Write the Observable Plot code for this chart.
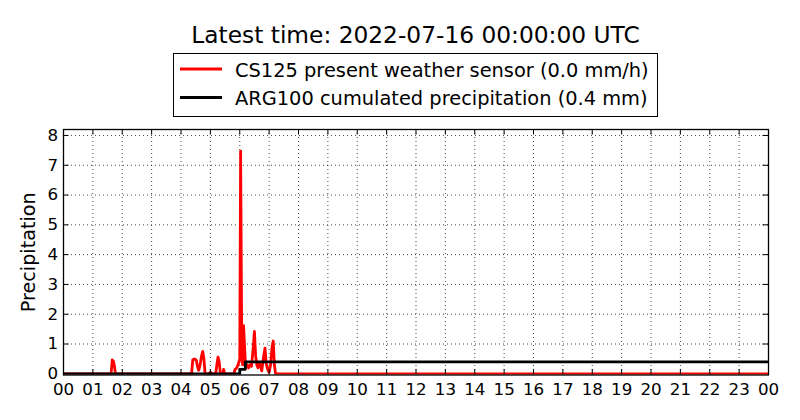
<!DOCTYPE html>
<html>
<head>
<meta charset="utf-8">
<script src="https://cdn.jsdelivr.net/npm/d3@7"></script>
<script src="https://cdn.jsdelivr.net/npm/@observablehq/plot@0.6"></script>
<style>
  html, body { margin: 0; padding: 0; background: white; }
  #wrap { width: 800px; height: 420px; background: white; font-family: "DejaVu Sans", sans-serif; }
  svg { display: block; }
</style>
</head>
<body>
<div id="wrap">
  <div id="header"></div>
  <div id="chart"></div>
</div>
<script>
// ---------- data ----------
const titleText = "Latest time: 2022-07-16 00:00:00 UTC";
const seriesNames = ["CS125 present weather sensor (0.0 mm/h)", "ARG100 cumulated precipitation (0.4 mm)"];
const seriesColors = ["red", "black"];
const yLabel = "Precipitation";

const xTickHours = [0,1,2,3,4,5,6,7,8,9,10,11,12,13,14,15,16,17,18,19,20,21,22,23,24];
const xTickLabels = ["00","01","02","03","04","05","06","07","08","09","10","11","12","13","14","15","16","17","18","19","20","21","22","23","00"];
const yTicks = [0,1,2,3,4,5,6,7,8];

// CS125 present weather sensor (mm/h), hours of day
const sensorHours = [0, 1.62, 1.66, 1.70, 1.73, 1.77,
  4.36, 4.40, 4.46, 4.52, 4.56, 4.60, 4.64, 4.70, 4.74, 4.78, 4.82,
  4.97, 5.00, 5.05, 5.18, 5.22, 5.26, 5.30, 5.34, 5.42, 5.45, 5.49,
  5.80, 5.84, 5.90, 5.96, 6.00, 6.03, 6.07, 6.10, 6.13, 6.17, 6.20, 6.25, 6.30, 6.35, 6.40,
  6.46, 6.50, 6.54, 6.58, 6.62, 6.66, 6.70, 6.75, 6.80, 6.86, 6.90, 6.95, 7.00, 7.05, 7.10, 7.14, 7.18, 7.22, 24];
const sensorRate = [0, 0, 0.47, 0.42, 0.28, 0,
  0, 0.47, 0.50, 0.46, 0.25, 0.12, 0.25, 0.60, 0.75, 0.50, 0,
  0, 0.05, 0, 0, 0.30, 0.56, 0.40, 0, 0, 0.15, 0,
  0, 0.15, 0.20, 0.35, 0.50, 7.47, 0.50, 0.30, 1.62, 0.80, 0.20, 0.30, 0.20, 0.30, 0.25,
  0.90, 1.42, 0.60, 0.30, 0.20, 0.35, 0.30, 0.10, 0.50, 0.86, 0.35, 0.15, 0.05, 0.30, 0.90, 1.10, 0.30, 0, 0];

// ARG100 cumulated precipitation (mm)
const gaugeHours = [0, 6.00, 6.19, 24];
const gaugeTotal = [0, 0.15, 0.40, 0.40];

// ---------- header (title + legend) ----------
const header = d3.select("#header").append("svg")
  .attr("width", 800).attr("height", 120)
  .style("font-family", "DejaVu Sans, sans-serif");
header.append("text")
  .attr("x", 415.5).attr("y", 43)
  .attr("text-anchor", "middle")
  .attr("font-size", 23.3)
  .attr("fill", "black")
  .text(titleText);
header.append("rect")
  .attr("x", 173.5).attr("y", 53.5).attr("width", 484).attr("height", 63)
  .attr("fill", "white").attr("stroke", "black").attr("stroke-width", 1);
const rowLine = [69, 97.5];
const rowText = [76.7, 104.5];
seriesNames.forEach((name, i) => {
  header.append("line")
    .attr("x1", 180).attr("x2", 222)
    .attr("y1", rowLine[i]).attr("y2", rowLine[i])
    .attr("stroke", seriesColors[i]).attr("stroke-width", 2.8);
  header.append("text")
    .attr("x", 235).attr("y", rowText[i])
    .attr("font-size", 19.4).attr("fill", "black")
    .text(name);
});

// ---------- chart ----------
const sensor = sensorHours.map((h, i) => ({h, v: sensorRate[i]}));
const gauge = gaugeHours.map((h, i) => ({h, v: gaugeTotal[i]}));

const W = 800, H = 300, mT = 9, mB = 45.5, mL = 63, mR = 32;
const innerH = H - mT - mB, innerW = W - mL - mR;
const tick = 5.5;
const gridStyle = {stroke: "black", strokeOpacity: 0.9, strokeWidth: 0.8, strokeDasharray: "1,3"};

const chart = Plot.plot({
  width: W, height: H,
  marginTop: mT, marginBottom: mB, marginLeft: mL, marginRight: mR,
  style: {fontFamily: "DejaVu Sans, sans-serif", fontSize: "16.7px", color: "black", background: "white"},
  x: {domain: [0, 24]},
  y: {domain: [-0.04, 8.2]},
  marks: [
    Plot.gridX(xTickHours.slice(1, -1), gridStyle),
    Plot.gridY(yTicks.slice(1), gridStyle),
    Plot.line(sensor, {x: "h", y: "v", stroke: seriesColors[0], strokeWidth: 2.8, clip: true, strokeLinejoin: "round"}),
    Plot.line(gauge, {x: "h", y: "v", curve: "step-after", stroke: seriesColors[1], strokeWidth: 2.8, clip: true}),
    // inward ticks on all four sides
    Plot.ruleX(xTickHours, {x: d => d, insetTop: innerH - tick, stroke: "black", strokeWidth: 1}),
    Plot.ruleX(xTickHours, {x: d => d, insetBottom: innerH - tick, stroke: "black", strokeWidth: 1}),
    Plot.ruleY(yTicks.slice(1), {y: d => d, insetRight: innerW - tick, stroke: "black", strokeWidth: 1}),
    Plot.ruleY(yTicks.slice(1), {y: d => d, insetLeft: innerW - tick, stroke: "black", strokeWidth: 1}),
    Plot.axisX(xTickHours, {tickSize: 0, tickPadding: 8.6, label: null, fontSize: 16.7,
      tickFormat: d => xTickLabels[xTickHours.indexOf(d)]}),
    Plot.axisY(yTicks, {tickSize: 0, tickPadding: 5.5, label: null, fontSize: 16.7, tickFormat: d => String(d)}),
    Plot.text([yLabel], {text: d => d, frameAnchor: "left", textAnchor: "middle", rotate: -90, dx: -34.7, fontSize: 19.2, fill: "black"}),
    Plot.frame({stroke: "black", strokeWidth: 1.3})
  ]
});
document.getElementById("chart").appendChild(chart);
</script>
</body>
</html>
